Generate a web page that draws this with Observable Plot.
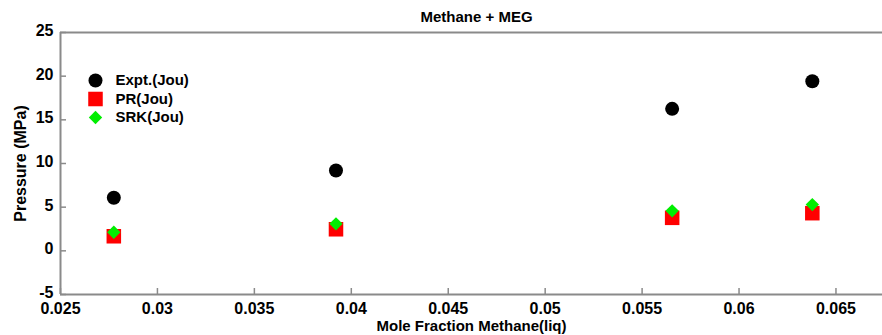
<!DOCTYPE html>
<html><head><meta charset="utf-8">
<script src="https://cdn.jsdelivr.net/npm/d3@7"></script>
<script src="https://cdn.jsdelivr.net/npm/@observablehq/plot@0.6"></script>
<style>
body{margin:0;background:#fff;font-family:"Liberation Sans",Arial,sans-serif;}
#chart svg{display:block;}
</style></head>
<body><div id="chart"></div>
<script>
const moleFraction = [0.02775, 0.03921, 0.05655, 0.06378];
const exptPressure = [6.07, 9.19, 16.26, 19.42];
const prPressure   = [1.67, 2.47, 3.78, 4.31];
const srkPressure  = [2.13, 3.09, 4.58, 5.30];
const xTicks = [0.025, 0.03, 0.035, 0.04, 0.045, 0.05, 0.055, 0.06, 0.065];
const yTicks = [-5, 0, 5, 10, 15, 20, 25];
const seriesNames = ["Expt.(Jou)", "PR(Jou)", "SRK(Jou)"];
const title = "Methane + MEG";
const xLabel = "Mole Fraction Methane(liq)";
const yLabel = "Pressure (MPa)";

const rows = (ys) => moleFraction.map((x, i) => ({x, y: ys[i]}));
const expt = rows(exptPressure), pr = rows(prPressure), srk = rows(srkPressure);
const gray = "#8a8a8a";
const legendStyle = [
  {symbol: "circle", fill: "black", r: 7},
  {symbol: "square", fill: "#ff0000", r: 8.2},
  {symbol: "diamond2", fill: "#00ee00", r: 6}
];
const legendMarks = seriesNames.flatMap((name, i) => [
  Plot.dot([name], {frameAnchor: "top-left", dx: 35, dy: 48 + i * 18.5, symbol: () => legendStyle[i].symbol, r: legendStyle[i].r, fill: legendStyle[i].fill}),
  Plot.text([name], {frameAnchor: "top-left", lineAnchor: "middle", dx: 55, dy: 48 + i * 18.5, text: d => d, textAnchor: "start", fontSize: 15, fontWeight: "bold", fill: "black"})
]);
const fmtX = d => String(+d.toFixed(3));

const chart = Plot.plot({
  width: 882, height: 335,
  marginTop: 32, marginLeft: 60, marginRight: 0, marginBottom: 41,
  style: {fontFamily: "'Liberation Sans', Arial, sans-serif", background: "white"},
  x: {domain: [0.025, 0.0674], ticks: xTicks, tickFormat: fmtX},
  y: {domain: [-5, 25], ticks: yTicks},
  marks: [
    Plot.ruleX([0.025], {stroke: gray, strokeWidth: 2}),
    Plot.ruleY([-5, 25], {stroke: gray, strokeWidth: 2}),
    Plot.axisX({ticks: xTicks, tickSize: -6, tickPadding: 14, stroke: gray, strokeWidth: 1.5, fontSize: 16, fontWeight: "bold", fill: "black", tickFormat: fmtX, label: null}),
    Plot.axisY({ticks: yTicks, tickSize: -6, stroke: gray, strokeWidth: 1.5, tickFormat: () => "", label: null}),
    Plot.axisY({ticks: yTicks, tickSize: 0, tickPadding: 7, dy: -1.5, fontSize: 16, fontWeight: "bold", fill: "black", tickFormat: d => String(d), label: null}),
    Plot.text([xLabel], {frameAnchor: "bottom", lineAnchor: "middle", dy: 32, text: d => d, fontSize: 15, fontWeight: "bold", fill: "black"}),
    Plot.text([yLabel], {frameAnchor: "left", textAnchor: "middle", lineAnchor: "middle", dx: -40, rotate: -90, text: d => d, fontSize: 16, fontWeight: "bold", fill: "black"}),
    Plot.text([title], {frameAnchor: "top", lineAnchor: "middle", dy: -15, dx: 5, text: d => d, fontSize: 15, fontWeight: "bold", fill: "black"}),
    Plot.dot(expt, {x: "x", y: "y", symbol: "circle", r: 7, fill: "black"}),
    Plot.dot(pr, {x: "x", y: "y", symbol: "square", r: 8.2, fill: "#ff0000"}),
    Plot.dot(srk, {x: "x", y: "y", symbol: "diamond2", r: 6, fill: "#00ee00"}),
    ...legendMarks
  ]
});
document.getElementById("chart").appendChild(chart);
</script></body></html>
